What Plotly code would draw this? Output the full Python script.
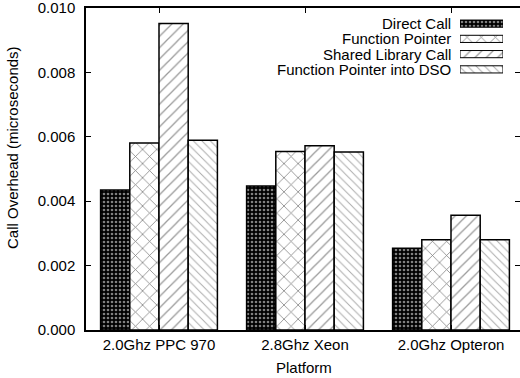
import plotly.graph_objects as go

platforms = ["2.0Ghz PPC 970", "2.8Ghz Xeon", "2.0Ghz Opteron"]
series_names = ["Direct Call", "Function Pointer", "Shared Library Call", "Function Pointer into DSO"]
direct_call = [0.00435, 0.00447, 0.00254]
function_pointer = [0.00581, 0.00554, 0.00280]
shared_library = [0.00952, 0.00572, 0.00356]
fp_into_dso = [0.00589, 0.00553, 0.00280]
y_ticks = [0.000, 0.002, 0.004, 0.006, 0.008, 0.010]

series_values = [direct_call, function_pointer, shared_library, fp_into_dso]
patterns = [
    dict(shape=".", size=4, solidity=0.35, fgcolor="white", bgcolor="black"),
    dict(shape="x", size=10, solidity=0.15, fgcolor="black", bgcolor="white"),
    dict(shape="/", size=8, solidity=0.16, fgcolor="#333", bgcolor="white"),
    dict(shape="\\", size=6, solidity=0.16, fgcolor="#555", bgcolor="white"),
]

FONT = "Liberation Sans, Arial, sans-serif"
W, H = 520, 378
ml, mr, mt, mb = 86, 0, 8, 48
pw, ph = W - ml - mr, H - mt - mb

fig = go.Figure()
for name, vals, pat in zip(series_names, series_values, patterns):
    fig.add_trace(go.Bar(
        x=list(range(len(platforms))), y=vals, name=name,
        marker=dict(color="white", pattern=pat, line=dict(color="black", width=1.5)),
        showlegend=False,
    ))

# custom legend swatches (gnuplot-style: text left, sample right)
fig.add_trace(go.Bar(
    x=[1] * 4, y=list(range(4)), orientation="h", base=0, width=0.47,
    xaxis="x2", yaxis="y2", showlegend=False, hoverinfo="skip",
    marker=dict(color="white", line=dict(color="black", width=1),
                pattern=dict(shape=[p["shape"] for p in patterns],
                             size=[p["size"] for p in patterns],
                             solidity=[p["solidity"] for p in patterns],
                             fgcolor=[p["fgcolor"] for p in patterns],
                             bgcolor=[p["bgcolor"] for p in patterns])),
))

annotations = []
for i, name in enumerate(series_names):
    annotations.append(dict(
        text=name, x=0, y=i, xref="x2 domain", yref="y2", xanchor="right", yanchor="middle",
        xshift=-7, showarrow=False, font=dict(family=FONT, size=15, color="black")))
annotations.append(dict(
    text="Call Overhead (microseconds)", x=(13 - ml) / pw, y=1 - (148 - mt) / ph,
    xref="paper", yref="paper", xanchor="center", yanchor="middle",
    showarrow=False, textangle=-90, font=dict(family=FONT, size=15, color="black")))
annotations.append(dict(
    text="Platform", x=(304 - ml) / pw, y=-(367 - mt - ph) / ph,
    xref="paper", yref="paper", xanchor="center", yanchor="middle",
    showarrow=False, font=dict(family=FONT, size=15, color="black")))

fig.update_layout(
    width=W, height=H, margin=dict(l=ml, r=mr, t=mt, b=mb, autoexpand=False),
    paper_bgcolor="white", plot_bgcolor="white",
    barmode="group", bargap=0.2, bargroupgap=0,
    font=dict(family=FONT, size=15, color="black"),
    annotations=annotations,
    xaxis=dict(
        range=[-0.5, -0.5 + pw / 146.0], tickvals=list(range(len(platforms))), ticktext=platforms,
        showline=True, linecolor="black", linewidth=1.5, mirror="ticks",
        ticks="inside", ticklen=5, tickcolor="black", showgrid=False, zeroline=False,
        automargin=False, ticklabeloverflow="allow",
    ),
    yaxis=dict(
        range=[0, 0.0100001], tickvals=y_ticks, tickformat=".3f",
        showline=True, linecolor="black", linewidth=1.5, mirror="ticks",
        ticks="inside", ticklen=5, tickcolor="black", showgrid=False, zeroline=False,
        ticklabelstandoff=6, automargin=False, ticklabeloverflow="allow",
    ),
    xaxis2=dict(domain=[(460 - ml) / pw, (503 - ml) / pw], range=[0, 1], visible=False, anchor="y2"),
    yaxis2=dict(domain=[1 - (77 - mt) / ph, 1 - (16 - mt) / ph], range=[3.5, -0.5], visible=False, anchor="x2"),
)

fig.write_html("out.html", config={"displayModeBar": False},
               post_script="document.body.style.margin='0';document.body.style.overflow='hidden';")
